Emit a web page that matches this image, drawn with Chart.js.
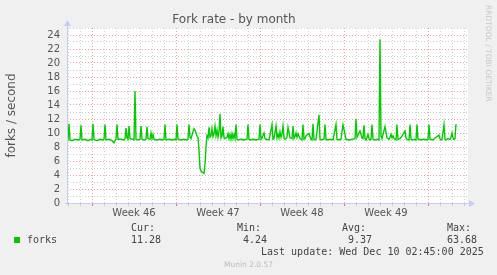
<!DOCTYPE html>
<html>
<head>
<meta charset="utf-8">
<script src="https://cdn.jsdelivr.net/npm/chart.js@4.4.1/dist/chart.umd.min.js"></script>
<style>
  body { margin: 0; background: #f0f0f0; }
  #wrap { position: relative; width: 497px; height: 275px; }
  .t { position: absolute; white-space: pre; font-family: "DejaVu Sans Mono", monospace; font-size: 10px; line-height: 12px; color: #444; }
  .small { font-family: "DejaVu Sans", sans-serif; font-size: 7.5px; line-height: 9px; color: #bbb; }
</style>
</head>
<body>
<div id="wrap">
  <canvas id="myChart" width="497" height="275"></canvas>
  <div class="t small" style="left:484px;top:5px;writing-mode:vertical-rl;line-height:8px;color:#c8c8c8">RRDTOOL / TOBI OETIKER</div>
  <div style="position:absolute;left:14px;top:237px;width:6px;height:6px;background:#00cc00"></div>
  <div class="t" style="left:27px;top:234px">forks</div>
  <div class="t" style="left:131px;top:222px">Cur:</div>
  <div class="t" style="left:131px;top:234px">11.28</div>
  <div class="t" style="left:237px;top:222px">Min:</div>
  <div class="t" style="left:243px;top:234px">4.24</div>
  <div class="t" style="left:342px;top:222px">Avg:</div>
  <div class="t" style="left:348px;top:234px">9.37</div>
  <div class="t" style="left:447px;top:222px">Max:</div>
  <div class="t" style="left:447px;top:234px">63.68</div>
  <div class="t" style="left:261px;top:246px">Last update: Wed Dec 10 02:45:00 2025</div>
  <div class="t small" style="left:0;width:497px;text-align:center;top:260px">Munin 2.0.57</div>
</div>
<script>
// hours since Mon Nov 10 00:00 (start of week 46)
var hours = [
  -50, -48, -46, -44, -40, -34, -28, -24, -22, -20, -14, -8, -2, 0, 2, 4, 10, 16, 22, 24,
  26, 28, 34, 40, 44, 46, 48, 50, 52, 58, 64, 66, 68, 70, 72, 74, 76, 82, 84, 86,
  88, 92, 96, 98, 100, 104, 108, 110, 112, 116, 118, 120, 122, 124, 130, 136, 142, 144, 146, 148,
  154, 160, 166, 168, 170, 172, 178, 184, 190, 192, 194, 196, 198, 202, 204, 206, 208, 210, 212, 214,
  216, 218, 220, 222, 224, 226, 228, 230, 232, 234, 236, 238, 240, 242, 244, 246, 248, 250, 252, 254,
  256, 258, 260, 262, 264, 266, 268, 270, 272, 274, 276, 278, 280, 282, 284, 286, 288, 290, 292, 298,
  304, 310, 312, 314, 316, 322, 328, 334, 336, 338, 340, 344, 346, 348, 354, 360, 362, 364, 368, 370,
  372, 374, 376, 378, 380, 382, 384, 386, 388, 390, 392, 396, 400, 402, 404, 406, 408, 410, 412, 416,
  418, 420, 422, 424, 426, 428, 434, 436, 438, 440, 442, 444, 446, 448, 454, 456, 458, 464, 466, 468,
  470, 476, 482, 488, 490, 492, 494, 496, 498, 502, 508, 514, 526, 528, 530, 536, 540, 542, 544, 546,
  548, 552, 554, 556, 558, 560, 562, 566, 570, 574, 576, 578, 580, 586, 590, 594, 596, 598, 600, 602,
  604, 606, 608, 610, 612, 616, 620, 626, 628, 630, 634, 636, 638, 640, 644, 648, 650, 652, 658, 664,
  670, 672, 674, 676, 682, 688, 694, 696, 698, 700, 704, 706, 708, 712, 716, 718, 720, 722, 724, 726,
  728, 732, 736, 738, 740, 742, 744, 746, 748
];
var forks = [
  9.1, 9.0, 11.3, 9.0, 8.9, 9.1, 9.0, 9.1, 11.1, 9.0, 9.1, 8.9, 9.1, 9.0, 11.3, 9.1, 8.9, 9.1, 9.0, 9.1,
  11.2, 9.0, 9.1, 8.9, 8.6, 8.9, 9.1, 11.2, 9.1, 9.1, 9.0, 9.2, 10.7, 9.3, 9.1, 11.0, 9.2, 9.1, 9.0, 16.0,
  9.1, 9.0, 9.1, 11.0, 9.1, 9.0, 9.1, 10.9, 9.2, 9.1, 10.0, 9.2, 9.8, 9.1, 9.0, 9.1, 9.0, 9.1, 11.2, 9.0,
  9.1, 9.0, 9.1, 9.0, 11.2, 9.1, 9.0, 9.1, 9.0, 9.1, 11.2, 9.4, 9.2, 10.2, 10.6, 10.4, 10.0, 9.6, 9.4, 7.5,
  5.0, 4.6, 4.4, 4.35, 4.24, 5.5, 8.0, 9.6, 9.3, 10.8, 9.4, 9.6, 10.6, 9.5, 9.9, 11.0, 9.6, 10.4, 9.4, 10.2,
  12.7, 9.3, 9.6, 10.9, 9.3, 9.2, 9.3, 9.4, 9.9, 9.2, 9.8, 9.1, 9.9, 9.2, 9.8, 9.2, 11.2, 9.1, 9.0, 9.1,
  9.0, 9.1, 11.2, 9.1, 9.0, 9.1, 9.0, 9.1, 11.2, 9.1, 9.3, 10.0, 9.2, 9.1, 9.0, 11.2, 9.1, 9.2, 11.0, 9.3,
  9.8, 9.3, 10.2, 9.4, 9.9, 11.0, 9.3, 9.1, 9.2, 9.4, 10.8, 9.3, 9.2, 11.0, 9.2, 9.5, 10.0, 9.4, 9.9, 9.2,
  9.1, 9.0, 11.2, 9.1, 9.2, 9.6, 9.9, 9.5, 9.1, 9.0, 11.3, 9.1, 9.0, 9.1, 12.6, 9.1, 9.0, 9.1, 11.2, 9.1,
  9.0, 9.1, 9.0, 11.2, 9.1, 9.0, 9.1, 9.0, 9.1, 11.2, 9.1, 9.0, 9.2, 12.0, 9.4, 10.3, 9.3, 9.2, 11.1, 9.2,
  9.0, 9.8, 9.2, 9.0, 9.1, 11.2, 9.1, 9.0, 9.1, 9.0, 23.4, 9.6, 9.2, 10.9, 9.3, 9.1, 9.4, 9.8, 9.3, 9.6,
  9.2, 9.1, 9.0, 11.2, 9.1, 9.2, 9.6, 10.3, 9.3, 9.1, 9.0, 11.2, 9.1, 9.0, 9.1, 9.0, 11.2, 9.1, 9.0, 9.1,
  9.0, 9.1, 11.2, 9.1, 9.0, 9.4, 9.7, 9.2, 9.0, 9.1, 11.2, 9.1, 9.0, 9.2, 9.1, 9.4, 10.0, 9.3, 9.1, 9.2,
  11.28
];
var weekLabels = ['Week 46', 'Week 47', 'Week 48', 'Week 49'];
var weekCenters = [84, 252, 420, 588];
var yLabels = [0, 2, 4, 6, 8, 10, 12, 14, 16, 18, 20, 22, 24];

var red = 'rgba(230, 120, 120, 0.7)';
var grey = 'rgba(185, 185, 185, 0.65)';
var axisBlue = '#c6ccf6';

var points = hours.map(function (h, i) { return { x: h, y: forks[i] }; });

var munin = {
  id: 'munin',
  beforeDraw: function (chart) {
    var c = chart.ctx, a = chart.chartArea;
    c.save();
    c.fillStyle = '#f0f0f0';
    c.fillRect(0, 0, chart.width, chart.height);
    c.fillStyle = '#ffffff';
    c.fillRect(a.left, a.top, a.right - a.left, a.bottom - a.top);
    c.restore();
  },
  afterDraw: function (chart) {
    var c = chart.ctx, a = chart.chartArea;
    c.save();
    c.strokeStyle = axisBlue;
    c.fillStyle = axisBlue;
    c.lineWidth = 1;
    c.beginPath();
    c.moveTo(a.left - 2, a.bottom + 0.5);
    c.lineTo(a.right + 2, a.bottom + 0.5);
    c.moveTo(a.left + 0.5, a.bottom + 2);
    c.lineTo(a.left + 0.5, a.top - 2);
    c.stroke();
    c.beginPath();
    c.moveTo(a.right + 1, a.bottom - 3);
    c.lineTo(a.right + 7, a.bottom + 0.5);
    c.lineTo(a.right + 1, a.bottom + 4);
    c.fill();
    c.beginPath();
    c.moveTo(a.left - 3, a.top - 2);
    c.lineTo(a.left + 0.5, a.top - 8);
    c.lineTo(a.left + 4, a.top - 2);
    c.fill();
    c.restore();
  }
};

Chart.defaults.font.family = 'DejaVu Sans';
Chart.defaults.color = '#555';

new Chart(document.getElementById('myChart'), {
  type: 'line',
  data: {
    datasets: [{
      label: 'forks',
      data: points,
      borderColor: '#00cc00',
      borderWidth: 1.4,
      pointRadius: 0,
      tension: 0,
      fill: false
    }]
  },
  options: {
    responsive: false,
    animation: false,
    devicePixelRatio: 1,
    layout: { padding: { left: 0, right: 29, top: 0, bottom: 0 } },
    plugins: {
      legend: { display: false },
      tooltip: { enabled: false },
      title: {
        display: true,
        text: 'Fork rate - by month',
        color: '#555',
        font: { family: 'DejaVu Sans', size: 12, weight: 'normal' },
        padding: { top: 13, bottom: 0.6 }
      }
    },
    scales: {
      x: {
        type: 'linear',
        min: -50,
        max: 752,
        afterFit: function (s) { s.height = 72; },
        afterBuildTicks: function (s) {
          var t = [];
          for (var h = -48; h <= 744; h += 24) t.push(h);
          weekCenters.forEach(function (w) { t.push(w); });
          t.sort(function (p, q) { return p - q; });
          s.ticks = t.map(function (v) { return { value: v }; });
        },
        ticks: {
          autoSkip: false,
          maxRotation: 0,
          padding: 1,
          color: '#555',
          font: { family: 'DejaVu Sans', size: 10 },
          callback: function (v) {
            var i = weekCenters.indexOf(v);
            return i >= 0 ? weekLabels[i] : '';
          }
        },
        grid: {
          drawTicks: true,
          tickLength: 3,
          tickBorderDash: [],
          lineWidth: 1,
          color: function (ctx) {
            var v = ctx.tick.value;
            if (weekCenters.indexOf(v) >= 0) return 'rgba(0,0,0,0)';
            return v % 168 === 0 ? red : grey;
          },
          tickColor: function (ctx) {
            var v = ctx.tick.value;
            if (weekCenters.indexOf(v) >= 0) return 'rgba(0,0,0,0)';
            return v % 168 === 0 ? 'rgba(230, 90, 90, 0.9)' : 'rgba(190,190,190,0.8)';
          }
        },
        border: { display: false, dash: [1, 2] }
      },
      y: {
        min: 0,
        max: 25,
        afterFit: function (s) { s.width = 67; },
        ticks: {
          stepSize: 1,
          autoSkip: false,
          padding: 7,
          color: '#555',
          font: { family: 'DejaVu Sans', size: 10 },
          callback: function (v) { return yLabels.indexOf(v) >= 0 ? String(v) : ''; }
        },
        grid: {
          drawTicks: false,
          lineWidth: 1,
          color: function (ctx) {
            return yLabels.indexOf(ctx.tick.value) >= 0 ? red : grey;
          }
        },
        border: { display: false, dash: [1, 2] },
        title: {
          display: true,
          text: 'forks / second',
          color: '#555',
          font: { family: 'DejaVu Sans', size: 12 },
          padding: { top: 5, bottom: 0 }
        }
      }
    }
  },
  plugins: [munin]
});
</script>
</body>
</html>
